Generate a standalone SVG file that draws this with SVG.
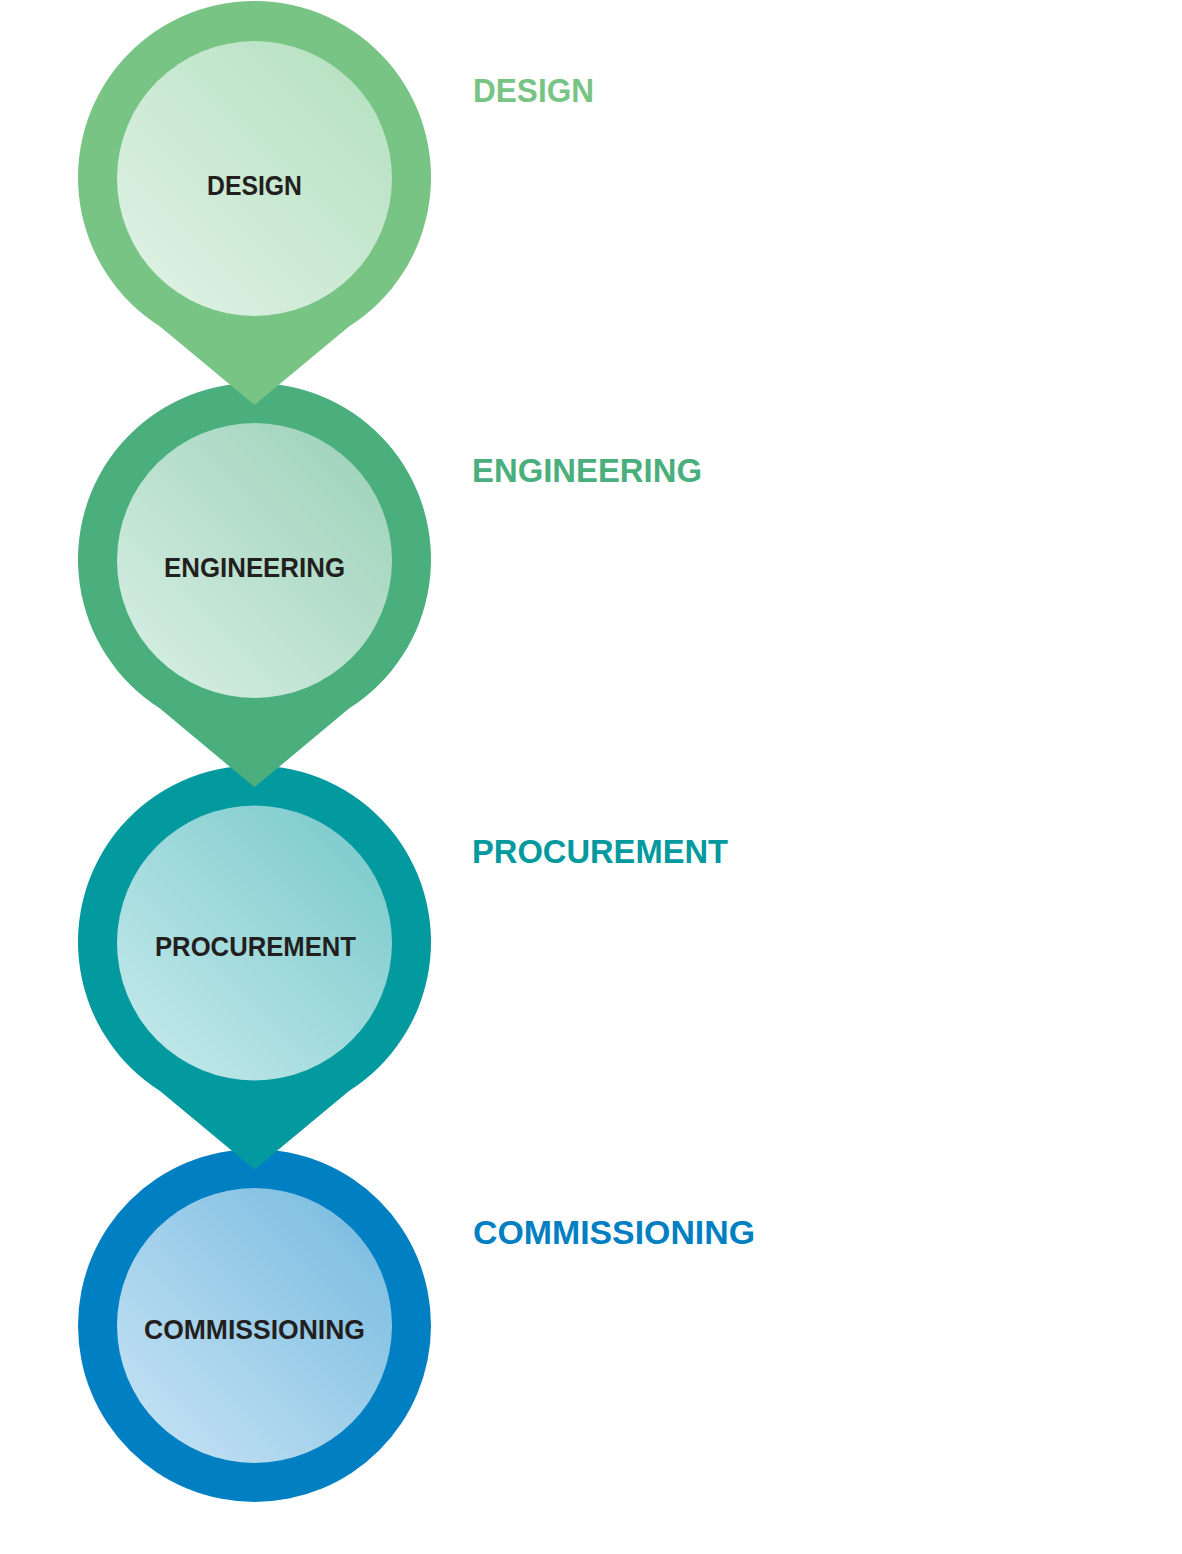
<svg xmlns="http://www.w3.org/2000/svg" width="1182" height="1554" viewBox="0 0 1182 1554">
  <defs>
    <linearGradient id="gDesign" x1="0" y1="1" x2="1" y2="0">
      <stop offset="0" stop-color="#E2F3E7"/>
      <stop offset="1" stop-color="#B2DFBE"/>
    </linearGradient>
    <linearGradient id="gEng" x1="0" y1="1" x2="1" y2="0">
      <stop offset="0" stop-color="#DAF0E6"/>
      <stop offset="1" stop-color="#99D0B7"/>
    </linearGradient>
    <linearGradient id="gProc" x1="0" y1="1" x2="1" y2="0">
      <stop offset="0" stop-color="#C9EBED"/>
      <stop offset="1" stop-color="#76C8CA"/>
    </linearGradient>
    <linearGradient id="gComm" x1="0" y1="1" x2="1" y2="0">
      <stop offset="0" stop-color="#CAE5F5"/>
      <stop offset="1" stop-color="#74B9DF"/>
    </linearGradient>
  </defs>
  <style>
    .inner-label { font-family: "Liberation Sans", Arial, sans-serif; font-weight: bold; font-size: 28.5px; fill: #231F20; }
    .title { font-family: "Liberation Sans", Arial, sans-serif; font-weight: bold; font-size: 34px; }
  </style>
  <rect width="1182" height="1554" fill="#FFFFFF"/>

  <!-- Commissioning (drawn first so the pin above overlaps it) -->
  <g id="node-commissioning">
    <circle cx="254.5" cy="1325.5" r="176.5" fill="#0080C3"/>
    <circle cx="254.5" cy="1325.5" r="137.5" fill="url(#gComm)"/>
    <text class="inner-label" x="144" y="1339" textLength="221" lengthAdjust="spacingAndGlyphs">COMMISSIONING</text>
  </g>

  <g id="node-procurement">
    <path d="M 160 1091 A 176.5 176.5 0 1 1 349 1091 L 254.5 1169.5 Z" fill="#039A9F"/>
    <circle cx="254.5" cy="943" r="137.5" fill="url(#gProc)"/>
    <text class="inner-label" x="155" y="956" textLength="201" lengthAdjust="spacingAndGlyphs">PROCUREMENT</text>
  </g>

  <g id="node-engineering">
    <path d="M 160 708.5 A 176.5 176.5 0 1 1 349 708.5 L 254.5 787.3 Z" fill="#4AAE7D"/>
    <circle cx="254.5" cy="560.5" r="137.5" fill="url(#gEng)"/>
    <text class="inner-label" x="164" y="576.5" textLength="181" lengthAdjust="spacingAndGlyphs">ENGINEERING</text>
  </g>

  <g id="node-design">
    <path d="M 160 326.5 A 176.5 176.5 0 1 1 349 326.5 L 254.5 405 Z" fill="#77C484"/>
    <circle cx="254.5" cy="178.5" r="137.5" fill="url(#gDesign)"/>
    <text class="inner-label" x="207" y="195" textLength="95" lengthAdjust="spacingAndGlyphs">DESIGN</text>
  </g>

  <g id="titles">
    <text class="title" x="473" y="102" fill="#77C484" textLength="121" lengthAdjust="spacingAndGlyphs">DESIGN</text>
    <text class="title" x="472" y="482" fill="#4AAE7D" textLength="230" lengthAdjust="spacingAndGlyphs">ENGINEERING</text>
    <text class="title" x="472" y="862.5" fill="#039A9F" textLength="256" lengthAdjust="spacingAndGlyphs">PROCUREMENT</text>
    <text class="title" x="473" y="1244" fill="#0080C3" textLength="282" lengthAdjust="spacingAndGlyphs">COMMISSIONING</text>
  </g>
</svg>
